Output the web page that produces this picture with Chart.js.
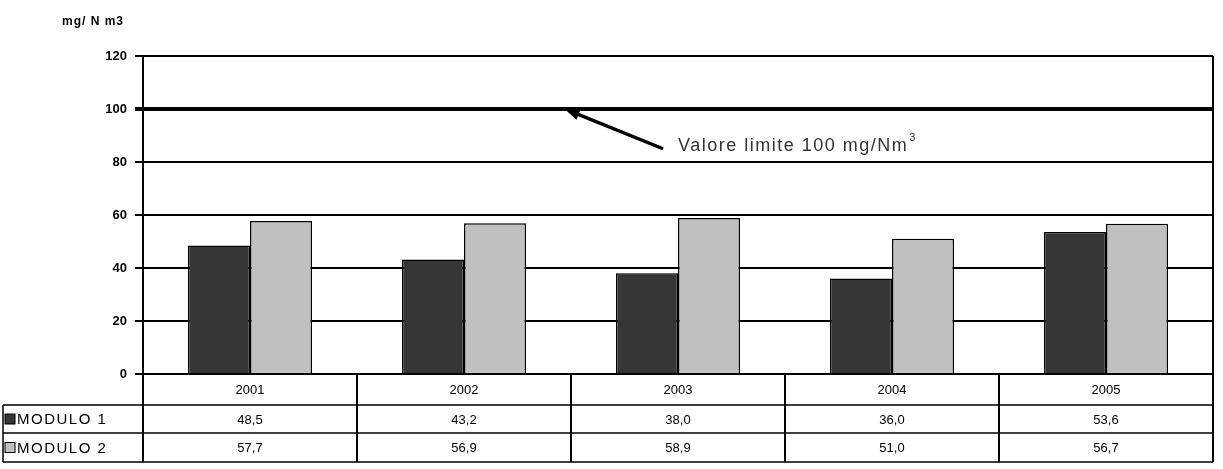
<!DOCTYPE html>
<html>
<head>
<meta charset="utf-8">
<script src="https://cdn.jsdelivr.net/npm/chart.js@4/dist/chart.umd.min.js"></script>
<style>
  body { margin: 0; background: #fff; }
  canvas { display: block; }
</style>
</head>
<body>
<canvas id="chart" width="1223" height="469"></canvas>
<script>
const years = ['2001', '2002', '2003', '2004', '2005'];
const modulo1 = [48.5, 43.2, 38.0, 36.0, 53.6];
const modulo2 = [57.7, 56.9, 58.9, 51.0, 56.7];
const seriesNames = ['MODULO 1', 'MODULO 2'];
const yTicks = [0, 20, 40, 60, 80, 100, 120];
const unitLabel = 'mg/ N m3';
const limitValue = 100;
const limitText = 'Valore limite 100 mg/Nm';
// arrow anchors in data units (x = category index, y = value)
const arrowTip = { x: 1.47, y: 100 };
const arrowTail = { x: 1.93, y: 85 };
const limitTextPos = { x: 2.0, y: 86 };

const DARK = '#363636';
const LIGHT = '#c0c0c0';

function fmt(v) {
  return v.toFixed(1).replace('.', ',');
}

// disegna etichetta unità, freccia del limite e tabella dati
const extras = {
  id: 'extras',
  afterDraw(chart) {
    const ctx = chart.ctx;
    const area = chart.chartArea;
    const x = chart.scales.x;
    const y = chart.scales.y;

    ctx.save();
    ctx.fillStyle = '#000';
    ctx.strokeStyle = '#000';

    // unità
    ctx.font = 'bold 12px Arial';
    ctx.textAlign = 'left';
    ctx.textBaseline = 'middle';
    ctx.letterSpacing = '1px';
    ctx.fillText(unitLabel, 62, 22);
    ctx.letterSpacing = '0px';

    // freccia
    const tx = x.getPixelForValue(arrowTip.x), ty = y.getPixelForValue(arrowTip.y);
    const sx = x.getPixelForValue(arrowTail.x), sy = y.getPixelForValue(arrowTail.y);
    const ang = Math.atan2(ty - sy, tx - sx);
    ctx.lineWidth = 3.5;
    ctx.beginPath();
    ctx.moveTo(sx, sy);
    ctx.lineTo(tx - Math.cos(ang) * 8, ty - Math.sin(ang) * 8);
    ctx.stroke();
    ctx.beginPath();
    ctx.moveTo(tx, ty);
    ctx.lineTo(tx - Math.cos(ang - 0.35) * 16, ty - Math.sin(ang - 0.35) * 16);
    ctx.lineTo(tx - Math.cos(ang + 0.35) * 16, ty - Math.sin(ang + 0.35) * 16);
    ctx.closePath();
    ctx.fill();

    // testo limite
    const lx = x.getPixelForValue(limitTextPos.x), ly = y.getPixelForValue(limitTextPos.y);
    ctx.font = '18px Arial';
    ctx.fillStyle = '#333';
    ctx.letterSpacing = '1.5px';
    ctx.fillText(limitText, lx, ly);
    const w = ctx.measureText(limitText).width;
    ctx.letterSpacing = '0px';
    ctx.font = '11px Arial';
    ctx.fillText('3', lx + w + 1, ly - 8);

    // tabella
    const top = area.bottom;
    const r1 = top + 31, r2 = r1 + 28, r3 = r2 + 29;
    const left = 3;
    ctx.fillStyle = '#000';
    ctx.lineWidth = 1.5;
    ctx.beginPath();
    ctx.moveTo(left, r1); ctx.lineTo(area.right, r1);
    ctx.moveTo(left, r2); ctx.lineTo(area.right, r2);
    ctx.moveTo(left, r3); ctx.lineTo(area.right, r3);
    ctx.moveTo(left, r1); ctx.lineTo(left, r3);
    ctx.stroke();
    ctx.lineWidth = 2;
    ctx.beginPath();
    ctx.moveTo(area.left, top); ctx.lineTo(area.left, r3);
    ctx.moveTo(area.right, area.top); ctx.lineTo(area.right, r3);
    for (let i = 1; i < years.length; i++) {
      const bx = (x.getPixelForValue(i - 1) + x.getPixelForValue(i)) / 2;
      ctx.moveTo(bx, top); ctx.lineTo(bx, r3);
    }
    ctx.stroke();

    ctx.font = '13px Arial';
    ctx.textAlign = 'center';
    years.forEach((yr, i) => {
      const cx = x.getPixelForValue(i);
      ctx.fillText(yr, cx, (top + r1) / 2 + 1);
      ctx.fillText(fmt(modulo1[i]), cx, (r1 + r2) / 2 + 1);
      ctx.fillText(fmt(modulo2[i]), cx, (r2 + r3) / 2 + 1);
    });

    // legenda nella tabella
    ctx.textAlign = 'left';
    ctx.font = '15px Arial';
    ctx.letterSpacing = '1.5px';
    [[DARK, r1, r2], [LIGHT, r2, r3]].forEach(([c, a, b], k) => {
      const cy = (a + b) / 2;
      ctx.fillStyle = c;
      ctx.fillRect(5, cy - 5, 10, 10);
      ctx.lineWidth = 1;
      ctx.strokeRect(5, cy - 5, 10, 10);
      ctx.fillStyle = '#000';
      ctx.fillText(seriesNames[k], 17, cy + 1);
    });
    ctx.restore();
  }
};

new Chart(document.getElementById('chart'), {
  type: 'bar',
  data: {
    labels: years,
    datasets: [
      {
        label: seriesNames[0],
        data: modulo1,
        backgroundColor: DARK,
        borderColor: '#000',
        borderWidth: 1.5,
        categoryPercentage: 0.58,
        barPercentage: 1.0
      },
      {
        label: seriesNames[1],
        data: modulo2,
        backgroundColor: LIGHT,
        borderColor: '#000',
        borderWidth: 1.5,
        categoryPercentage: 0.58,
        barPercentage: 1.0
      }
    ]
  },
  options: {
    responsive: false,
    animation: false,
    devicePixelRatio: 1,
    layout: { padding: { top: 56, bottom: 95, right: 10, left: 0 } },
    plugins: {
      legend: { display: false },
      tooltip: { enabled: false }
    },
    scales: {
      x: { display: false },
      y: {
        min: 0,
        max: 120,
        afterFit: s => { s.width = 143; },
        afterBuildTicks: s => { s.ticks = yTicks.map(v => ({ value: v })); },
        ticks: {
          color: '#000',
          font: { family: 'Arial', size: 13, weight: 'bold' },
          padding: 8
        },
        grid: {
          color: '#000',
          lineWidth: c => (c.tick && c.tick.value === limitValue ? 4 : 2),
          tickLength: 8
        },
        border: { color: '#000', width: 2 }
      }
    }
  },
  plugins: [extras]
});
</script>
</body>
</html>
